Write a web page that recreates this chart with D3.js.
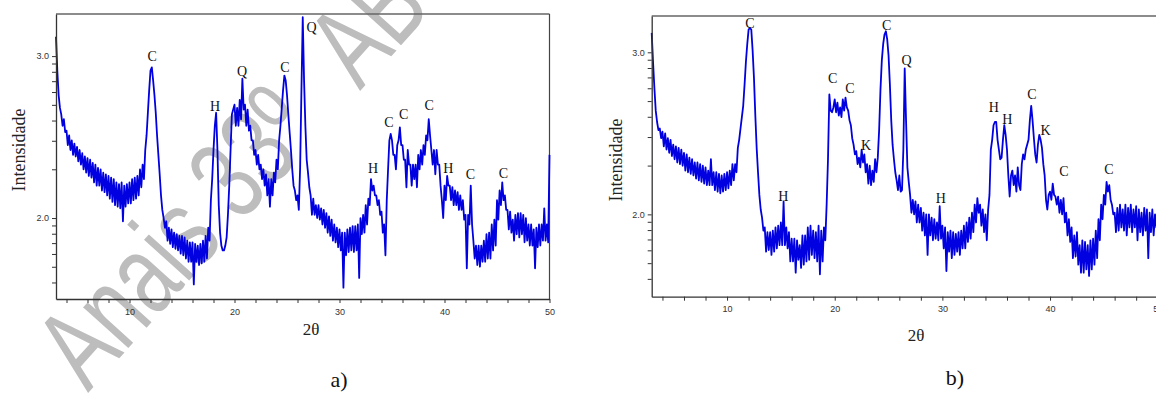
<!DOCTYPE html>
<html>
<head>
<meta charset="utf-8">
<script src="https://cdn.jsdelivr.net/npm/d3@7"></script>
<style>
  html, body { margin: 0; padding: 0; background: #fff; }
  svg { display: block; }
</style>
</head>
<body>
<div id="chart"></div>
<script>
// 2θ grid of the scans: 3° to 50°, one reading every 0.125°
const scanStart = 3;
const scanStep = 0.125;

// log10(intensity) read off panel a), eight readings per degree
const intensityA = [
  3.12, 2.91, 2.76, 2.68, 2.64, 2.57, 2.61, 2.53,  // 3
  2.54, 2.45, 2.51, 2.42, 2.48, 2.39, 2.46, 2.38,  // 4
  2.44, 2.35, 2.42, 2.33, 2.40, 2.30, 2.38, 2.28,  // 5
  2.37, 2.26, 2.36, 2.25, 2.34, 2.22, 2.33, 2.20,  // 6
  2.31, 2.20, 2.30, 2.17, 2.28, 2.16, 2.27, 2.14,  // 7
  2.26, 2.12, 2.25, 2.10, 2.24, 2.08, 2.22, 2.07,  // 8
  2.21, 2.06, 2.22, 1.98, 2.20, 2.07, 2.21, 2.09,  // 9
  2.22, 2.09, 2.24, 2.11, 2.25, 2.12, 2.26, 2.14,  // 10
  2.30, 2.19, 2.33, 2.24, 2.42, 2.51, 2.65, 2.79,  // 11
  2.91, 2.93, 2.85, 2.76, 2.65, 2.51, 2.39, 2.27,  // 12
  2.14, 2.05, 2.00, 1.94, 1.98, 1.86, 1.94, 1.84,  // 13
  1.93, 1.82, 1.91, 1.81, 1.90, 1.80, 1.89, 1.78,  // 14
  1.89, 1.77, 1.88, 1.75, 1.86, 1.73, 1.85, 1.73,  // 15
  1.85, 1.59, 1.84, 1.73, 1.83, 1.71, 1.84, 1.72,  // 16
  1.86, 1.73, 1.89, 1.75, 1.94, 1.86, 2.11, 2.24,  // 17
  2.42, 2.57, 2.65, 2.42, 2.08, 1.91, 1.83, 1.80,  // 18
  1.80, 1.83, 1.88, 2.02, 2.20, 2.42, 2.64, 2.67,  // 19
  2.70, 2.57, 2.68, 2.57, 2.73, 2.61, 2.86, 2.67,  // 20
  2.70, 2.57, 2.67, 2.54, 2.57, 2.48, 2.48, 2.39,  // 21
  2.42, 2.33, 2.39, 2.30, 2.33, 2.24, 2.30, 2.20,  // 22
  2.27, 2.14, 2.24, 2.07, 2.24, 2.14, 2.28, 2.22,  // 23
  2.36, 2.30, 2.48, 2.57, 2.68, 2.79, 2.88, 2.85,  // 24
  2.76, 2.64, 2.53, 2.42, 2.30, 2.20, 2.17, 2.11,  // 25
  2.14, 2.05, 2.31, 2.79, 3.24, 2.85, 2.57, 2.36,  // 26
  2.28, 2.19, 2.14, 2.02, 2.12, 2.02, 2.08, 2.00,  // 27
  2.08, 1.99, 2.06, 1.96, 2.05, 1.94, 2.03, 1.91,  // 28
  2.01, 1.89, 1.99, 1.86, 1.96, 1.85, 1.94, 1.82,  // 29
  1.93, 1.80, 1.91, 1.57, 1.91, 1.77, 1.93, 1.79,  // 30
  1.94, 1.80, 1.95, 1.79, 1.95, 1.80, 1.96, 1.63,  // 31
  2.00, 1.90, 2.02, 1.91, 2.08, 1.96, 2.12, 2.08,  // 32
  2.24, 2.17, 2.20, 2.14, 2.14, 2.08, 2.11, 2.02,  // 33
  2.04, 1.91, 1.96, 1.77, 2.11, 2.30, 2.48, 2.52,  // 34
  2.48, 2.39, 2.39, 2.30, 2.45, 2.48, 2.56, 2.45,  // 35
  2.45, 2.36, 2.36, 2.19, 2.42, 2.33, 2.33, 2.20,  // 36
  2.33, 2.24, 2.33, 2.19, 2.39, 2.30, 2.42, 2.33,  // 37
  2.45, 2.39, 2.51, 2.48, 2.61, 2.51, 2.42, 2.33,  // 38
  2.42, 2.27, 2.42, 2.33, 2.33, 2.20, 2.11, 2.00,  // 39
  2.20, 2.11, 2.26, 2.20, 2.20, 2.11, 2.19, 2.08,  // 40
  2.17, 2.08, 2.16, 2.05, 2.14, 2.05, 2.11, 1.99,  // 41
  2.02, 1.69, 2.02, 1.96, 2.20, 1.96, 1.86, 1.75,  // 42
  1.83, 1.71, 1.83, 1.70, 1.83, 1.73, 1.86, 1.73,  // 43
  1.90, 1.75, 1.91, 1.75, 1.96, 1.80, 1.99, 1.83,  // 44
  2.11, 1.99, 2.17, 2.08, 2.22, 2.11, 2.14, 2.05,  // 45
  2.05, 1.93, 2.04, 1.91, 1.99, 1.86, 2.02, 1.90,  // 46
  2.03, 1.88, 2.03, 1.90, 2.02, 1.85, 2.00, 1.86,  // 47
  1.96, 1.83, 1.96, 1.83, 1.93, 1.69, 1.94, 1.82,  // 48
  1.96, 1.83, 1.96, 1.86, 2.06, 1.86, 1.96, 1.85,  // 49
  2.39                                             // 50
];

// log10(intensity) read off panel b)
const intensityB = [
  3.12, 2.94, 2.78, 2.64, 2.57, 2.52, 2.53, 2.47,  // 3
  2.51, 2.42, 2.50, 2.40, 2.47, 2.38, 2.46, 2.36,  // 4
  2.43, 2.34, 2.42, 2.32, 2.41, 2.31, 2.40, 2.30,  // 5
  2.38, 2.27, 2.37, 2.26, 2.35, 2.25, 2.34, 2.24,  // 6
  2.32, 2.22, 2.32, 2.21, 2.31, 2.20, 2.30, 2.19,  // 7
  2.29, 2.18, 2.27, 2.18, 2.34, 2.18, 2.26, 2.15,  // 8
  2.26, 2.14, 2.25, 2.13, 2.24, 2.14, 2.25, 2.15,  // 9
  2.26, 2.16, 2.27, 2.18, 2.31, 2.21, 2.31, 2.26,  // 10
  2.41, 2.46, 2.53, 2.60, 2.67, 2.80, 2.94, 3.05,  // 11
  3.14, 3.15, 3.14, 3.01, 2.84, 2.61, 2.41, 2.26,  // 12
  2.12, 2.03, 1.98, 1.90, 1.92, 1.77, 1.89, 1.78,  // 13
  1.89, 1.75, 1.90, 1.77, 1.92, 1.79, 1.93, 1.81,  // 14
  1.95, 1.81, 2.08, 1.81, 1.92, 1.79, 1.89, 1.71,  // 15
  1.85, 1.71, 1.85, 1.64, 1.84, 1.72, 1.81, 1.67,  // 16
  1.87, 1.69, 1.87, 1.71, 1.92, 1.72, 1.93, 1.75,  // 17
  1.90, 1.73, 1.89, 1.71, 1.93, 1.63, 1.90, 1.71,  // 18
  1.92, 1.84, 2.06, 2.34, 2.74, 2.64, 2.63, 2.66,  // 19
  2.71, 2.63, 2.69, 2.61, 2.66, 2.60, 2.71, 2.64,  // 20
  2.72, 2.66, 2.64, 2.58, 2.55, 2.47, 2.43, 2.37,  // 21
  2.39, 2.31, 2.35, 2.29, 2.40, 2.32, 2.37, 2.26,  // 22
  2.31, 2.19, 2.30, 2.18, 2.27, 2.20, 2.34, 2.26,  // 23
  2.35, 2.52, 2.77, 2.95, 3.05, 3.11, 3.13, 3.08,  // 24
  2.98, 2.80, 2.58, 2.43, 2.34, 2.26, 2.21, 2.15,  // 25
  2.24, 2.14, 2.15, 2.40, 2.90, 2.58, 2.29, 2.20,  // 26
  2.12, 2.01, 2.09, 2.00, 2.08, 1.95, 2.06, 1.95,  // 27
  2.04, 1.90, 2.01, 1.87, 2.00, 1.75, 2.00, 1.87,  // 28
  1.98, 1.84, 1.97, 1.85, 1.95, 1.84, 2.05, 1.85,  // 29
  1.93, 1.79, 1.92, 1.65, 1.89, 1.77, 1.90, 1.73,  // 30
  1.89, 1.75, 1.88, 1.77, 1.89, 1.75, 1.90, 1.79,  // 31
  1.93, 1.79, 1.95, 1.83, 1.98, 1.85, 2.01, 1.89,  // 32
  2.06, 1.95, 2.10, 2.01, 2.06, 1.93, 2.03, 1.89,  // 33
  2.00, 1.84, 2.03, 2.12, 2.40, 2.46, 2.55, 2.57,  // 34
  2.57, 2.46, 2.40, 2.34, 2.35, 2.46, 2.55, 2.49,  // 35
  2.40, 2.24, 2.11, 2.24, 2.27, 2.18, 2.24, 2.14,  // 36
  2.29, 2.18, 2.15, 2.31, 2.37, 2.34, 2.40, 2.43,  // 37
  2.46, 2.58, 2.67, 2.58, 2.47, 2.37, 2.32, 2.43,  // 38
  2.49, 2.46, 2.41, 2.31, 2.24, 2.09, 2.03, 2.12,  // 39
  2.14, 2.09, 2.19, 2.12, 2.11, 2.06, 2.11, 2.01,  // 40
  2.09, 2.00, 2.10, 1.95, 2.01, 1.87, 1.97, 1.83,  // 41
  1.92, 1.73, 1.87, 1.74, 1.89, 1.69, 1.81, 1.64,  // 42
  1.84, 1.64, 1.83, 1.66, 1.81, 1.62, 1.84, 1.66,  // 43
  1.85, 1.69, 1.90, 1.73, 1.97, 1.84, 2.06, 1.97,  // 44
  2.12, 2.06, 2.20, 2.14, 2.18, 2.09, 2.06, 2.00,  // 45
  2.01, 1.89, 2.04, 1.90, 2.06, 1.92, 2.03, 1.90,  // 46
  2.06, 1.87, 2.04, 1.92, 2.06, 1.89, 2.03, 1.92,  // 47
  2.05, 1.84, 2.03, 1.89, 2.01, 1.87, 2.04, 1.90,  // 48
  2.03, 1.73, 2.01, 1.89, 2.03, 1.87, 2.00, 1.92,  // 49
  2.00                                             // 50
];

// phase labels: [letter, 2θ, log10 intensity] (C calcite, Q quartzo, H hematita, K caulinita)
const peaksA = [
  ['C', 12.17, 3.00], ['H', 18.14, 2.69], ['Q', 20.71, 2.91], ['C', 24.81, 2.93],
  ['Q', 27.35, 3.18], ['H', 33.19, 2.31], ['C', 34.71, 2.59], ['C', 36.11, 2.64],
  ['C', 38.55, 2.70], ['H', 40.36, 2.31], ['C', 42.46, 2.27], ['C', 45.60, 2.28]
];
const peaksB = [
  ['C', 12.13, 3.18], ['H', 15.22, 2.11], ['C', 19.81, 2.84], ['C', 21.41, 2.78],
  ['K', 22.90, 2.43], ['C', 24.82, 3.17], ['Q', 26.68, 2.95], ['H', 29.86, 2.10],
  ['H', 34.78, 2.66], ['H', 36.02, 2.59], ['C', 38.31, 2.74], ['K', 39.58, 2.52],
  ['C', 41.28, 2.27], ['C', 45.46, 2.28]
];

// axis ticks
const xTicks = d3.range(4, 51, 2);
const xTickLabels = [10, 20, 30, 40, 50];
const yTickCounts = [40, 50, 60, 70, 80, 90, 100, 200, 300, 400, 500, 600, 700, 800, 900, 1000];
const yTickLabels = [2, 3];

const W = 1156, H = 394;
const blue = '#0000e0';

const svg = d3.select('#chart').append('svg')
  .attr('width', W)
  .attr('height', H);

// watermark of the proceedings (narrow, tall lettering), drawn behind the plots
const mark = svg.append('text')
  .attr('transform', 'translate(88,393) rotate(-48) scale(0.82,1.15)')
  .attr('font-family', 'Liberation Sans, Arial, sans-serif')
  .attr('font-size', 100)
  .attr('fill', '#bdbdbd');
mark.append('tspan').text('Anais 33º');
mark.append('tspan').attr('dx', 70).text('ABC');

const panels = [
  { values: intensityA, peaks: peaksA, left: 56, right: 549.5, top: 14, bottom: 299,
    yDomain: [1.5, 3.26], caption: 'a)', yTitle: [19, 150], xTitle: [311, 335], capPos: [339, 387] },
  { values: intensityB, peaks: peaksB, left: 651.7, right: 1157.7, top: 16, bottom: 296.7,
    yDomain: [1.492, 3.224], caption: 'b)', yTitle: [616, 160], xTitle: [916, 341], capPos: [955, 385] }
];

panels.forEach(p => {
  const data = p.values.map((v, i) => [scanStart + i * scanStep, v]);

  const x = d3.scaleLinear().domain([3, 50]).range([p.left, p.right]);
  const y = d3.scaleLinear().domain(p.yDomain).range([p.bottom, p.top]);

  const g = svg.append('g');

  // top and right frame
  g.append('line')
    .attr('x1', p.left).attr('x2', p.right)
    .attr('y1', p.top).attr('y2', p.top)
    .attr('stroke', '#666').attr('stroke-width', 1.5);
  g.append('line')
    .attr('x1', p.right).attr('x2', p.right)
    .attr('y1', p.top).attr('y2', p.bottom)
    .attr('stroke', '#444').attr('stroke-width', 1.2);

  // pattern
  g.append('path')
    .datum(data)
    .attr('fill', 'none')
    .attr('stroke', blue)
    .attr('stroke-width', 1.8)
    .attr('stroke-linejoin', 'round')
    .attr('d', d3.line().x(d => x(d[0])).y(d => y(d[1])));

  // axes
  const xAxis = d3.axisBottom(x)
    .tickValues(xTicks)
    .tickFormat(d => xTickLabels.includes(d) ? d : '')
    .tickSize(4)
    .tickSizeOuter(0);
  const gx = g.append('g')
    .attr('transform', `translate(0,${p.bottom})`)
    .call(xAxis);

  const yTicks = yTickCounts.map(Math.log10)
    .filter(v => v >= p.yDomain[0] && v <= p.yDomain[1]);
  const yAxis = d3.axisLeft(y)
    .tickValues(yTicks)
    .tickFormat(d => yTickLabels.some(l => Math.abs(l - d) < 1e-9) ? d.toFixed(1) : '')
    .tickSize(4)
    .tickSizeOuter(0);
  const gy = g.append('g')
    .attr('transform', `translate(${p.left},0)`)
    .call(yAxis);

  [gx, gy].forEach(ax => {
    ax.select('.domain').attr('stroke', '#333').attr('stroke-width', 1.3);
    ax.selectAll('.tick line').attr('stroke', '#333');
    ax.selectAll('.tick text')
      .attr('fill', '#333')
      .attr('font-family', 'Liberation Sans, Arial, sans-serif')
      .attr('font-size', 9);
  });
  gx.selectAll('.tick text').attr('dy', '0.95em');

  // phase letters
  g.selectAll('.peak')
    .data(p.peaks)
    .join('text')
    .attr('class', 'peak')
    .attr('x', d => x(d[1]))
    .attr('y', d => y(d[2]))
    .attr('dy', '0.35em')
    .attr('text-anchor', 'middle')
    .attr('font-family', 'Liberation Serif, Times New Roman, serif')
    .attr('font-size', 14)
    .attr('fill', '#111')
    .text(d => d[0]);

  // titles
  g.append('text')
    .attr('transform', `translate(${p.yTitle[0]},${p.yTitle[1]}) rotate(-90)`)
    .attr('dy', '0.35em')
    .attr('text-anchor', 'middle')
    .attr('font-family', 'Liberation Serif, Times New Roman, serif')
    .attr('font-size', 18)
    .attr('fill', '#222')
    .text('Intensidade');

  g.append('text')
    .attr('x', p.xTitle[0])
    .attr('y', p.xTitle[1])
    .attr('text-anchor', 'middle')
    .attr('font-family', 'Liberation Serif, Times New Roman, serif')
    .attr('font-size', 17)
    .attr('fill', '#222')
    .text('2θ');

  g.append('text')
    .attr('x', p.capPos[0])
    .attr('y', p.capPos[1])
    .attr('text-anchor', 'middle')
    .attr('font-family', 'Liberation Serif, Times New Roman, serif')
    .attr('font-size', 22)
    .attr('fill', '#111')
    .text(p.caption);
});
</script>
</body>
</html>
